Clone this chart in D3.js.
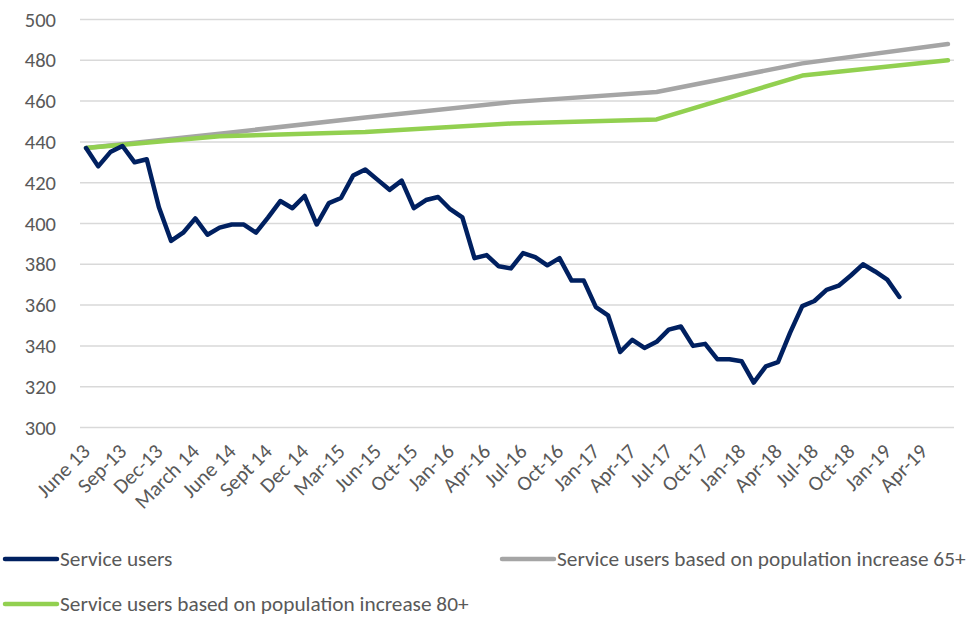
<!DOCTYPE html>
<html>
<head>
<meta charset="utf-8">
<script src="https://cdn.jsdelivr.net/npm/d3@7/dist/d3.min.js"></script>
<style>
  html, body { margin: 0; padding: 0; background: #ffffff; }
  svg { display: block; font-family: Carlito, Calibri, Lato, sans-serif; }
</style>
</head>
<body>
<svg id="chart" width="966" height="622"></svg>
<script>
// Monthly categories, June 2013 onwards; every third one carries a tick label
const categories = d3.range(72);
const tickLabels = ["June 13", "Sep-13", "Dec-13", "March 14", "June 14", "Sept 14", "Dec 14",
  "Mar-15", "Jun-15", "Oct-15", "Jan-16", "Apr-16", "Jul-16", "Oct-16", "Jan-17", "Apr-17",
  "Jul-17", "Oct-17", "Jan-18", "Apr-18", "Jul-18", "Oct-18", "Jan-19", "Apr-19"];
const yTicks = [300, 320, 340, 360, 380, 400, 420, 440, 460, 480, 500];

// Actual service users per month
const serviceUsers = [437, 428, 435, 438, 430, 431.5, 408, 391.5, 395.5, 402.5,
  394.5, 398, 399.5, 399.5, 395.5, 403, 411, 407.5, 413.5, 399.5,
  410, 412.5, 423.5, 426.5, 421.5, 416.5, 421, 407.5, 411.5, 413,
  407, 403, 383, 384.5, 379, 378, 385.5, 383.5, 379.5, 383,
  372, 372, 359, 355, 337, 343, 339, 342, 348, 349.5,
  340, 341, 333.5, 333.5, 332.5, 322, 330, 332, 346.5, 359.5,
  362, 367.5, 369.5, 374.5, 380, 376.5, 372.5, 364];

// Projected service users, yearly points (category index of each point)
const projectionCats = [0, 11, 23, 35, 47, 59, 71];
const projected65 = [437, 444, 452, 459.5, 464.5, 478.5, 488];
const projected80 = [437, 442.8, 444.8, 449, 451, 472.5, 480];

const seriesNames = ["Service users", "Service users based on population increase 65+",
  "Service users based on population increase 80+"];
const seriesColors = ["#002060", "#A5A5A5", "#92D050"];

const svg = d3.select("#chart");
const plot = { left: 80, right: 954, top: 19.5, bottom: 427.5 };

const x = d3.scaleBand().domain(categories).range([plot.left, plot.right]);
const cx = i => x(i) + x.bandwidth() / 2;
const y = d3.scaleLinear().domain([300, 500]).range([plot.bottom, plot.top]);

// Horizontal gridlines
svg.append("g").selectAll("line").data(yTicks).join("line")
  .attr("x1", plot.left).attr("x2", plot.right)
  .attr("y1", d => y(d)).attr("y2", d => y(d))
  .attr("stroke", "#d9d9d9").attr("stroke-width", 1.5);

// Value axis labels
const yAxis = d3.axisLeft(y).tickValues(yTicks).tickSize(0).tickPadding(0);
const yg = svg.append("g").attr("transform", "translate(56,0)").call(yAxis);
yg.select(".domain").remove();
yg.selectAll("text").attr("fill", "#595959").attr("font-size", 20.5)
  .style("font-family", "Carlito, Calibri, Lato, sans-serif");

// Category axis labels, rotated
const tickCats = tickLabels.map((t, k) => k * 3);
const xg = svg.append("g");
xg.selectAll("text").data(tickCats).join("text")
  .attr("transform", d => `translate(${cx(d)},${plot.bottom + 20}) rotate(-45)`)
  .attr("text-anchor", "end")
  .attr("dy", "0.35em")
  .attr("fill", "#595959").attr("font-size", 21)
  .text((d, k) => tickLabels[k]);

// Lines
const line = d3.line().x(d => cx(d[0])).y(d => y(d[1]));
const proj65Pts = projectionCats.map((c, k) => [c, projected65[k]]);
const proj80Pts = projectionCats.map((c, k) => [c, projected80[k]]);
const usersPts = serviceUsers.map((v, i) => [categories[i], v]);

[[proj65Pts, seriesColors[1]], [proj80Pts, seriesColors[2]], [usersPts, seriesColors[0]]]
  .forEach(([pts, col]) => {
    svg.append("path").datum(pts).attr("d", line)
      .attr("fill", "none").attr("stroke", col).attr("stroke-width", 4.5)
      .attr("stroke-linejoin", "round").attr("stroke-linecap", "round");
  });

// Legend
const legendItems = [
  { name: seriesNames[0], color: seriesColors[0], lx: 3, ly: 559 },
  { name: seriesNames[1], color: seriesColors[1], lx: 500, ly: 559 },
  { name: seriesNames[2], color: seriesColors[2], lx: 3, ly: 604 }
];
const lg = svg.append("g").selectAll("g").data(legendItems).join("g")
  .attr("transform", d => `translate(${d.lx},${d.ly})`);
lg.append("line").attr("x1", 2).attr("x2", 54).attr("y1", 0).attr("y2", 0)
  .attr("stroke", d => d.color).attr("stroke-width", 4.5).attr("stroke-linecap", "round");
lg.append("text").attr("x", 57).attr("dy", "0.35em")
  .attr("fill", "#595959").attr("font-size", 21.3)
  .text(d => d.name);
</script>
</body>
</html>
